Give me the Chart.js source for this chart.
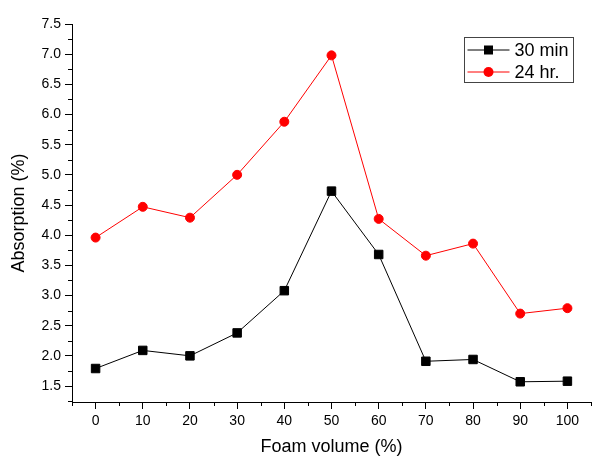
<!DOCTYPE html>
<html>
<head>
<meta charset="utf-8">
<script src="https://cdn.jsdelivr.net/npm/chart.js@4/dist/chart.umd.min.js"></script>
<style>
  html, body { margin: 0; padding: 0; background: #fff; }
  canvas { display: block; }
</style>
</head>
<body>
<canvas id="chart" width="603" height="461"></canvas>
<script>
// --- Data ---
const foamVolume = [0, 10, 20, 30, 40, 50, 60, 70, 80, 90, 100];
const absorption30min = [1.79, 2.09, 2.00, 2.38, 3.08, 4.73, 3.68, 1.91, 1.94, 1.57, 1.58];
const absorption24hr = [3.96, 4.47, 4.29, 5.00, 5.88, 6.98, 4.27, 3.66, 3.86, 2.70, 2.79];
const seriesLabels = ["30 min", "24 hr."];

// --- Tick values ---
const xTickValues = [0, 10, 20, 30, 40, 50, 60, 70, 80, 90, 100];
const xMinorTicks = [-5, 5, 15, 25, 35, 45, 55, 65, 75, 85, 95, 105];
const yTickValues = [1.5, 2.0, 2.5, 3.0, 3.5, 4.0, 4.5, 5.0, 5.5, 6.0, 6.5, 7.0, 7.5];
const yMinorTicks = [1.25, 1.75, 2.25, 2.75, 3.25, 3.75, 4.25, 4.75, 5.25, 5.75, 6.25, 6.75, 7.25];

const family = 'Arial, "Liberation Sans", sans-serif';

function toPoints(xs, ys) {
  return xs.map((x, i) => ({ x: x, y: ys[i] }));
}

// --- Short minor ticks on both axes ---
const minorTicks = {
  id: 'minorTicks',
  afterDraw(chart) {
    const { ctx, scales: { x, y } } = chart;
    ctx.save();
    ctx.strokeStyle = '#000';
    ctx.lineWidth = 1;
    ctx.beginPath();
    xMinorTicks.forEach(v => {
      const px = Math.round(x.getPixelForValue(v)) + 0.5;
      ctx.moveTo(px, x.top);
      ctx.lineTo(px, x.top + 4);
    });
    yMinorTicks.forEach(v => {
      const py = Math.round(y.getPixelForValue(v)) + 0.5;
      ctx.moveTo(y.right, py);
      ctx.lineTo(y.right - 4, py);
    });
    ctx.stroke();
    ctx.restore();
  }
};

// --- Boxed legend, line + marker samples ---
const boxLegend = {
  id: 'boxLegend',
  afterDraw(chart) {
    const { ctx, chartArea } = chart;
    const boxW = 109, boxH = 45;
    const left = Math.round(chartArea.right - 18 - boxW) + 0.5;
    const top = Math.round(chartArea.top + 13) + 0.5;
    ctx.save();
    ctx.strokeStyle = '#444';
    ctx.lineWidth = 1;
    ctx.strokeRect(left, top, boxW, boxH);
    chart.data.datasets.forEach((ds, i) => {
      const cy = top + 12.5 + i * 22;
      ctx.strokeStyle = ds.borderColor;
      ctx.lineWidth = 1;
      ctx.beginPath();
      ctx.moveTo(left + 3, cy);
      ctx.lineTo(left + 45, cy);
      ctx.stroke();
      ctx.fillStyle = ds.backgroundColor;
      const mx = left + 24;
      if (ds.pointStyle === 'rect') {
        ctx.fillRect(mx - 4.5, cy - 4.5, 9, 9);
      } else {
        ctx.beginPath();
        ctx.arc(mx, cy, 5, 0, Math.PI * 2);
        ctx.fill();
      }
      ctx.fillStyle = '#000';
      ctx.font = '18px ' + family;
      ctx.textBaseline = 'middle';
      ctx.textAlign = 'left';
      ctx.fillText(ds.label, left + 50, cy + 1);
    });
    ctx.restore();
  }
};

const ctx = document.getElementById('chart').getContext('2d');
new Chart(ctx, {
  type: 'line',
  data: {
    datasets: [
      {
        label: seriesLabels[0],
        data: toPoints(foamVolume, absorption30min),
        borderColor: '#000',
        backgroundColor: '#000',
        borderWidth: 1,
        pointStyle: 'rect',
        pointRadius: 6,
        pointBorderWidth: 1,
        tension: 0
      },
      {
        label: seriesLabels[1],
        data: toPoints(foamVolume, absorption24hr),
        borderColor: '#ff0000',
        backgroundColor: '#ff0000',
        borderWidth: 1,
        pointStyle: 'circle',
        pointRadius: 4.5,
        pointBorderWidth: 1,
        tension: 0
      }
    ]
  },
  options: {
    responsive: false,
    animation: false,
    layout: { padding: { top: 24, right: 12, left: 0, bottom: 0 } },
    plugins: {
      legend: { display: false },
      tooltip: { enabled: false }
    },
    scales: {
      x: {
        type: 'linear',
        min: -5,
        max: 105,
        afterBuildTicks: s => { s.ticks = xTickValues.map(v => ({ value: v })); },
        afterFit: s => { s.height = 59; },
        grid: { drawOnChartArea: false, tickLength: 7, color: '#000', tickColor: '#000' },
        border: { color: '#000', width: 1 },
        ticks: { color: '#000', font: { size: 14, family }, padding: 4, maxRotation: 0 },
        title: {
          display: true,
          text: 'Foam volume (%)',
          color: '#000',
          font: { size: 18, family },
          padding: { top: 0, bottom: 3 }
        }
      },
      y: {
        type: 'linear',
        min: 1.235,
        max: 7.5,
        afterBuildTicks: s => { s.ticks = yTickValues.map(v => ({ value: v })); },
        afterFit: s => { s.width = 72; },
        grid: { drawOnChartArea: false, tickLength: 7, color: '#000', tickColor: '#000' },
        border: { color: '#000', width: 1 },
        ticks: {
          color: '#000',
          font: { size: 14, family },
          padding: 4,
          callback: v => Number(v).toFixed(1)
        },
        title: {
          display: true,
          text: 'Absorption (%)',
          color: '#000',
          font: { size: 18, family },
          padding: { top: 8, bottom: 0 }
        }
      }
    }
  },
  plugins: [minorTicks, boxLegend]
});
</script>
</body>
</html>
